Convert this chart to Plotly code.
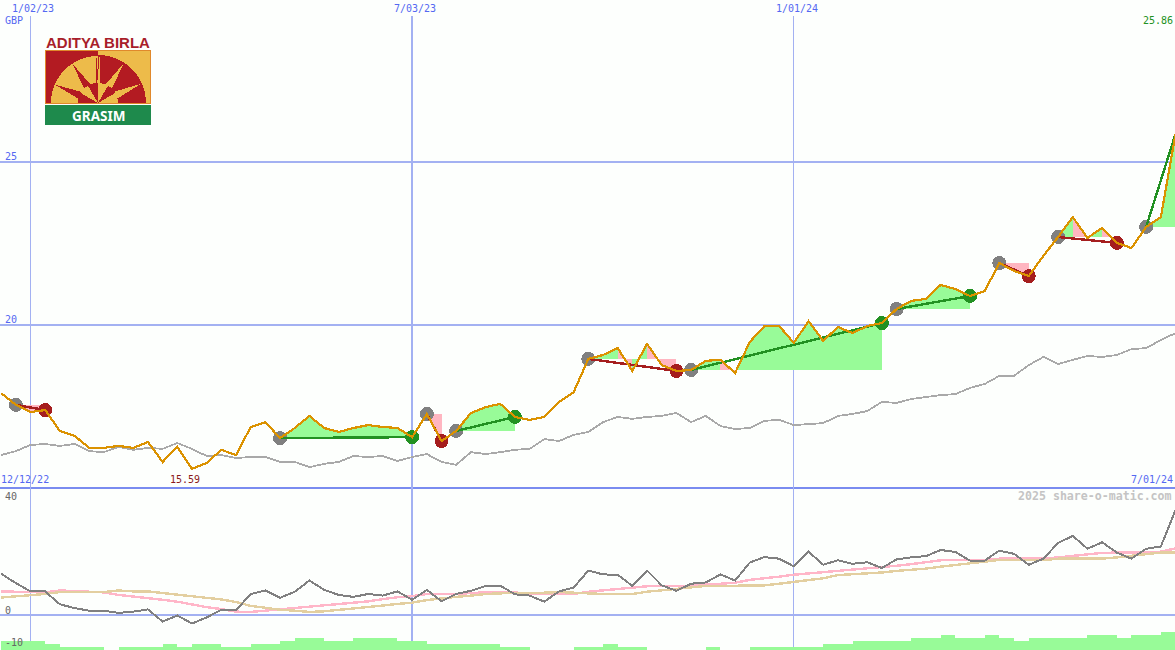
import math
import pandas as pd
import plotly.graph_objects as go

W, H = 1175, 650
dates = pd.date_range("2022-12-19", periods=81, freq="7D")

price = [17.91, 17.55, 17.33, 17.39, 16.75, 16.60, 16.23, 16.23, 16.29, 16.23, 16.41, 15.80, 16.26, 15.59, 15.77,
         16.17, 16.01, 16.87, 17.02, 16.53, 16.84, 17.21, 16.84, 16.72, 16.84, 16.93, 16.87, 16.84, 16.56, 17.27,
         16.44, 16.75, 17.30, 17.48, 17.58, 17.18, 17.09, 17.18, 17.64, 17.94, 18.96, 19.08, 19.29, 18.59, 19.42,
         18.77, 18.59, 18.62, 18.90, 18.93, 18.53, 19.48, 19.97, 19.97, 19.45, 20.12, 19.51, 19.94, 19.75, 19.97,
         20.06, 20.49, 20.74, 20.80, 21.23, 21.10, 20.89, 21.04, 21.90, 21.66, 21.50, 22.12, 22.70, 23.31, 22.67,
         22.98, 22.52, 22.36, 23.01, 23.31, 25.86]

benchmark = [16.01, 16.13, 16.32, 16.35, 16.29, 16.35, 16.13, 16.10, 16.26, 16.17, 16.23, 16.20, 16.38, 16.20, 15.98,
             16.01, 15.92, 15.95, 15.95, 15.80, 15.80, 15.64, 15.74, 15.80, 15.98, 15.95, 15.98, 15.83, 15.95, 16.04,
             15.80, 15.71, 16.10, 16.04, 16.10, 16.17, 16.20, 16.50, 16.44, 16.63, 16.72, 17.02, 17.18, 17.12, 17.18,
             17.21, 17.30, 17.02, 17.21, 16.90, 16.81, 16.84, 17.06, 17.09, 16.93, 16.96, 16.99, 17.21, 17.27, 17.36,
             17.64, 17.61, 17.73, 17.79, 17.85, 17.88, 18.07, 18.19, 18.44, 18.44, 18.77, 19.02, 18.80, 18.93, 19.05,
             19.02, 19.08, 19.26, 19.29, 19.54, 19.75]

momentum = [13.0, 10.1, 7.5, 7.5, 3.5, 2.3, 1.5, 1.5, 0.8, 1.2, 1.9, -1.9, 0.0, -2.5, -0.6,
            1.8, 1.6, 6.7, 7.8, 5.5, 7.4, 10.9, 8.0, 6.4, 5.8, 6.7, 6.2, 7.5, 4.9, 8.0,
            4.4, 6.7, 7.7, 9.2, 9.3, 6.6, 6.2, 4.3, 7.5, 8.7, 14.0, 12.8, 12.7, 9.2, 14.0,
            9.4, 7.7, 9.9, 10.3, 12.8, 10.9, 16.5, 18.2, 17.7, 15.3, 19.9, 15.8, 17.2, 16.1, 16.6,
            14.8, 17.5, 18.1, 18.5, 20.4, 19.8, 17.1, 17.1, 20.2, 19.2, 15.8, 17.7, 22.6, 24.8, 20.8,
            22.8, 19.6, 17.7, 20.8, 21.5, 32.9]

avg_pink = [7.5, 7.4, 7.3, 7.2, 7.8, 7.5, 7.4, 7.2, 6.4, 5.9, 5.5, 4.9, 4.3, 3.4, 2.6,
            2.0, 1.2, 1.1, 1.5, 1.8, 2.2, 2.7, 3.2, 3.6, 3.9, 4.4, 5.1, 5.7, 6.0, 6.7,
            6.7, 6.7, 7.0, 7.3, 7.4, 7.2, 6.7, 6.7, 6.7, 6.7, 7.4, 7.8, 8.3, 8.5, 9.1,
            9.2, 9.2, 9.2, 9.6, 9.8, 10.2, 11.1, 11.5, 12.1, 12.7, 13.0, 13.5, 13.9, 14.3, 14.5,
            15.1, 15.5, 16.0, 16.6, 17.2, 17.3, 17.3, 17.3, 17.7, 17.7, 17.7, 17.7, 18.1, 18.6, 19.2,
            19.5, 19.6, 19.6, 19.6, 19.9, 20.9]

avg_tan = [5.6, 5.9, 6.4, 6.7, 7.3, 7.3, 7.3, 7.3, 7.8, 7.5, 7.5, 7.0, 6.4, 5.9, 5.5,
           5.0, 4.2, 3.0, 2.4, 1.8, 1.5, 1.1, 1.3, 1.7, 2.1, 2.6, 3.1, 3.6, 4.0, 4.8,
           5.4, 5.8, 6.2, 6.7, 6.9, 6.9, 6.9, 7.1, 7.3, 7.1, 6.7, 6.7, 6.7, 6.7, 7.4,
           7.8, 8.2, 8.6, 9.2, 9.2, 9.2, 9.2, 9.4, 9.9, 10.4, 11.1, 11.6, 12.6, 12.8, 13.1,
           13.4, 13.9, 14.2, 14.6, 15.2, 15.7, 16.2, 16.8, 17.3, 17.3, 17.2, 17.2, 17.7, 17.7, 17.7,
           17.7, 18.1, 18.6, 19.1, 19.6, 19.6]

volume = [3, 3, 3, 2, 1, 1, 1, 0, 1, 1, 1, 2, 1, 2, 2,
          1, 1, 2, 2, 3, 4, 4, 3, 3, 4, 4, 4, 3, 3, 2,
          2, 2, 2, 2, 1, 1, 0, 0, 0, 1, 1, 2, 1, 1, 0,
          0, 0, 0, 1, 0, 0, 1, 1, 1, 1, 1, 2, 2, 3, 3,
          3, 3, 4, 4, 5, 4, 4, 5, 4, 3, 4, 4, 4, 4, 5,
          5, 4, 5, 5, 6, 6]

# trades: index of the week opened, index of the week closed
trade_open = [1, 19, 29, 31, 40, 47, 61, 68, 72, 78]
trade_close = [3, 28, 30, 35, 46, 60, 66, 70, 76, 80]

GREEN = "#98FB98"
PINK = "#FFB6C1"
DOT_GREEN = "#229122"
DOT_RED = "#A51E1E"
DOT_GRAY = "#808080"
BLUE_TXT = "#5468F2"
GRID = "#A3B1F2"
DIVIDER = "#7A8CF0"
BG = "#FDFFFD"
MONO = "DejaVu Sans Mono"

fill_g_x, fill_g_y, fill_p_x, fill_p_y = [], [], [], []
line_g_x, line_g_y, line_r_x, line_r_y = [], [], [], []
open_x, open_y, end_g_x, end_g_y, end_r_x, end_r_y = [], [], [], [], [], []
for a, b in zip(trade_open, trade_close):
    base = price[a]
    for j in range(a, b):
        xs = [dates[j], dates[j + 1], dates[j + 1], dates[j], dates[j], None]
        ys = [price[j], price[j + 1], base, base, price[j], None]
        if price[j + 1] >= base:
            fill_g_x += xs; fill_g_y += ys
        else:
            fill_p_x += xs; fill_p_y += ys
    open_x.append(dates[a]); open_y.append(base)
    won = price[b] >= base
    if won:
        line_g_x += [dates[a], dates[b], None]; line_g_y += [base, price[b], None]
        if b < len(price) - 1:
            end_g_x.append(dates[b]); end_g_y.append(price[b])
    else:
        line_r_x += [dates[a], dates[b], None]; line_r_y += [base, price[b], None]
        end_r_x.append(dates[b]); end_r_y.append(price[b])

fig = go.Figure()


def poly(x, y, color):
    fig.add_trace(go.Scatter(x=x, y=y, mode="lines", fill="toself", fillcolor=color,
                             line=dict(width=0, color=color), hoverinfo="skip", showlegend=False))


def line(x, y, color, width, yaxis="y"):
    fig.add_trace(go.Scatter(x=x, y=y, mode="lines", line=dict(color=color, width=width),
                             hoverinfo="skip", showlegend=False, yaxis=yaxis))


def dots(x, y, color):
    fig.add_trace(go.Scatter(x=x, y=y, mode="markers", marker=dict(color=color, size=14, line=dict(width=0)),
                             hoverinfo="skip", showlegend=False))


poly(fill_g_x, fill_g_y, GREEN)
poly(fill_p_x, fill_p_y, PINK)
line(list(dates), benchmark, "#A9A9A9", 1.8)
dots(open_x, open_y, DOT_GRAY)
dots(end_g_x, end_g_y, DOT_GREEN)
dots(end_r_x, end_r_y, DOT_RED)
line(line_g_x, line_g_y, DOT_GREEN, 2.4)
line(line_r_x, line_r_y, DOT_RED, 2.4)
line(list(dates), price, "#DB9200", 2.2)

line(list(dates), avg_pink, "#FFB6C8", 2.4, "y2")
line(list(dates), avg_tan, "#E3CFA0", 2.4, "y2")
line(list(dates), momentum, "#808080", 2, "y2")

fig.add_trace(go.Bar(x=list(dates), y=volume, yaxis="y3", width=7 * 86400000, offset=0,
                     marker=dict(color=GREEN, line=dict(width=0)), hoverinfo="skip", showlegend=False))


def fx(px):
    return px / W


def fy(px):
    return 1 - px / H


shapes = []


def hline(axis, value, color=GRID):
    shapes.append(dict(type="line", xref="paper", yref=axis, x0=0, x1=1, y0=value, y1=value,
                       line=dict(color=color, width=2), layer="below"))


hline("y", 25)
hline("y", 20)
hline("y2", 0)
shapes.append(dict(type="line", xref="paper", yref="paper", x0=0, x1=1, y0=fy(487.5), y1=fy(487.5),
                   line=dict(color=DIVIDER, width=2), layer="below"))
for d, w in zip(["2023-01-02", "2023-07-03", "2024-01-01"], [1, 2, 1]):
    shapes.append(dict(type="line", xref="x", yref="paper", x0=d, x1=d, y0=0, y1=fy(16),
                       line=dict(color=GRID, width=w), layer="below"))


def path(points, fill):
    d = "M " + " L ".join(f"{fx(x):.5f},{fy(y):.5f}" for x, y in points) + " Z"
    shapes.append(dict(type="path", xref="paper", yref="paper", path=d, fillcolor=fill, line=dict(width=0),
                       layer="above"))


def rect(x0, y0, x1, y1, fill):
    path([(x0, y0), (x1, y0), (x1, y1), (x0, y1)], fill)


# logo
LR, LY, LO = "#B31B22", "#EDBB4A", "#E0892B"
rect(45, 50, 151, 104, LO)
rect(46, 51, 98, 103, LR)
rect(98, 51, 150, 103, LY)


def wedge(cx, cy, r, a0, a1, fill):
    n = 14
    pts = [(cx, cy)]
    for k in range(n + 1):
        t = math.radians(a0 + (a1 - a0) * k / n)
        pts.append((cx + r * math.cos(t), cy - r * math.sin(t)))
    path(pts, fill)


def spike(cx, cy, r_in, r_out, ang, half, fill):
    a, c = math.radians(ang - half), math.radians(ang + half)
    b = math.radians(ang)
    path([(cx + r_in * math.cos(a), cy - r_in * math.sin(a)),
          (cx + r_out * math.cos(b), cy - r_out * math.sin(b)),
          (cx + r_in * math.cos(c), cy - r_in * math.sin(c))], fill)


cx, cy = 98, 103
wedge(cx, cy, 49, 90, 180, LR)
wedge(cx, cy, 47, 90, 180, LY)
wedge(cx, cy, 48, 0, 90, LR)
for ang in (157, 123):
    spike(cx, cy, 18, 47, ang, 13, LR)
spike(cx, cy, 18, 47, 92, 5, LR)
for ang in (57, 24):
    spike(cx, cy, 18, 47, ang, 13, LY)
spike(cx, cy, 18, 47, 88, 5, LY)
for a0, col in ((0, LY), (30, LR), (60, LY), (90, LR), (120, LY), (150, LR)):
    wedge(cx, cy, 20, a0, a0 + 30, col)
rect(45, 105, 151, 125, "#1E8A4C")

annotations = []


def text(s, x, y, color, anchor="left", size=10, family=MONO, bold=False):
    annotations.append(dict(text=f"<b>{s}</b>" if bold else s, x=fx(x), y=fy(y), xref="paper", yref="paper",
                            xanchor=anchor, yanchor="middle", showarrow=False, align=anchor,
                            font=dict(family=family, size=size, color=color)))


text("1/02/23", 10, 8, BLUE_TXT)
text("7/03/23", 392, 8, BLUE_TXT)
text("1/01/24", 774, 8, BLUE_TXT)
text("GBP", 3, 21, BLUE_TXT)
text("25.86", 1175, 21, "#229122", "right")
text("25", 3, 156, BLUE_TXT)
text("20", 3, 319, BLUE_TXT)
text("12/12/22", -1, 479, BLUE_TXT)
text("7/01/24", 1175, 479, BLUE_TXT, "right")
text("15.59", 168, 479, "#8B1A1A")
text("40", 3, 496, "#666666")
text("0", 3, 610, "#666666")
text("-10", 3, 642, "#666666")
text("2025 share-o-matic.com", 1174, 496, "#C4C4C4", "right", 11.6, MONO, True)
text("ADITYA BIRLA", 98, 43, "#A81E2A", "center", 15, "Liberation Sans", True)
text("GRASIM", 98, 115.5, "#FFFFFF", "center", 13.5, "Noto Sans", True)

fig.update_layout(
    width=W, height=H, margin=dict(l=0, r=0, t=0, b=0), autosize=False,
    paper_bgcolor=BG, plot_bgcolor="rgba(0,0,0,0)", showlegend=False,
    shapes=shapes, annotations=annotations,
    xaxis=dict(type="date", range=["2022-12-18 11:00", "2024-06-30 18:00"], visible=False, domain=[0, 1]),
    yaxis=dict(range=[15.03, 29.97], domain=[1 - 487 / H, 1], visible=False, anchor="x"),
    yaxis2=dict(range=[-10.75, 40.03], domain=[0, 1 - 487 / H], visible=False, anchor="x"),
    yaxis3=dict(range=[0, 40 / 3], domain=[0, 40 / H], visible=False, anchor="x"),
)

crisp = ("var s=document.createElement('style');"
         "s.textContent='.scatterlayer path,.barlayer path,.shapelayer path{shape-rendering:crispEdges !important}';"
         "document.head.appendChild(s);")
fig.write_html("out.html", config={"displayModeBar": False},
               post_script="document.body.style.margin='0';document.body.style.overflow='hidden';" + crisp +
                           "window.dispatchEvent(new Event('resize'));")
